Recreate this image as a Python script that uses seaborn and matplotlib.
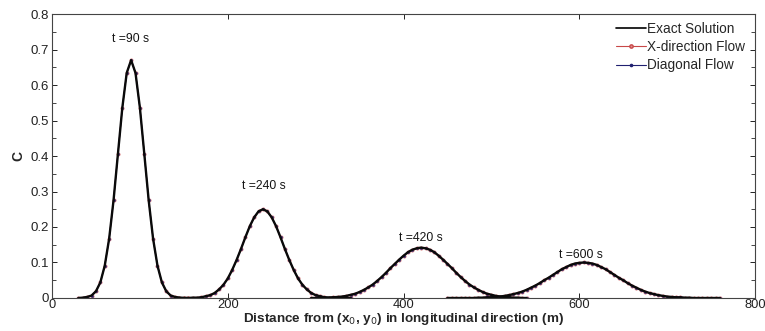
import numpy as np
import pandas as pd
import matplotlib
matplotlib.use("Agg")
import matplotlib.pyplot as plt
from matplotlib.lines import Line2D
from matplotlib.ticker import MultipleLocator
import seaborn as sns

# Concentration pulses (distance in m, concentration C) at four times
times = [90, 240, 420, 600]

x_t90 = list(range(30, 160, 5))
c_t90 = [0.000, 0.001, 0.003, 0.007, 0.019, 0.044, 0.091, 0.167, 0.275, 0.406,
         0.536, 0.634, 0.670, 0.634, 0.536, 0.406, 0.275, 0.167, 0.091, 0.044,
         0.019, 0.007, 0.003, 0.001, 0.000, 0.000]

x_t240 = list(range(140, 345, 5))
c_t240 = [0.000, 0.000, 0.000, 0.000, 0.001, 0.001, 0.002, 0.005, 0.008, 0.014,
          0.024, 0.037, 0.055, 0.079, 0.107, 0.138, 0.171, 0.202, 0.227, 0.244,
          0.250, 0.244, 0.227, 0.202, 0.171, 0.138, 0.107, 0.079, 0.055, 0.037,
          0.024, 0.014, 0.008, 0.005, 0.002, 0.001, 0.001, 0.000, 0.000, 0.000,
          0.000]

x_t420 = list(range(295, 545, 5))
c_t420 = [0.000, 0.000, 0.000, 0.001, 0.001, 0.002, 0.003, 0.004, 0.006, 0.009,
          0.012, 0.017, 0.023, 0.030, 0.038, 0.048, 0.059, 0.071, 0.084, 0.096,
          0.108, 0.119, 0.129, 0.136, 0.140, 0.142, 0.140, 0.136, 0.129, 0.119,
          0.108, 0.096, 0.084, 0.071, 0.059, 0.048, 0.038, 0.030, 0.023, 0.017,
          0.012, 0.009, 0.006, 0.004, 0.003, 0.002, 0.001, 0.001, 0.000, 0.000]

x_t600 = list(range(450, 765, 5))
c_t600 = [0.000, 0.000, 0.000, 0.000, 0.000, 0.000, 0.000, 0.001, 0.001, 0.002,
          0.002, 0.003, 0.004, 0.006, 0.008, 0.011, 0.014, 0.018, 0.023, 0.029,
          0.035, 0.042, 0.050, 0.057, 0.065, 0.073, 0.081, 0.087, 0.093, 0.097,
          0.099, 0.100, 0.099, 0.097, 0.093, 0.087, 0.081, 0.073, 0.065, 0.057,
          0.050, 0.042, 0.035, 0.029, 0.023, 0.018, 0.014, 0.011, 0.008, 0.006,
          0.004, 0.003, 0.002, 0.002, 0.001, 0.001, 0.000, 0.000, 0.000, 0.000,
          0.000, 0.000, 0.000]

pulse_x = [x_t90, x_t240, x_t420, x_t600]
pulse_c = [c_t90, c_t240, c_t420, c_t600]

# Label positions for each pulse (distance, C)
label_x = [89, 241, 420, 602]
label_y = [0.729, 0.316, 0.168, 0.122]

series_names = ["Exact Solution", "X-direction Flow", "Diagonal Flow"]

rows = []
for name in series_names:
    for t, xs, cs in zip(times, pulse_x, pulse_c):
        for xv, cv in zip(xs, cs):
            rows.append({"series": name, "pulse": t, "x": xv, "C": cv})
df = pd.DataFrame(rows)

sns.set_style("ticks")
plt.rcParams["font.family"] = ["Liberation Sans", "DejaVu Sans"]
plt.rcParams["xtick.direction"] = "in"
plt.rcParams["ytick.direction"] = "in"
plt.rcParams["xtick.top"] = True
plt.rcParams["ytick.right"] = True

fig = plt.figure(figsize=(7.65, 3.31), dpi=100)
ax = fig.add_axes([0.068, 0.0997, 0.919, 0.858])

red = "#c84848"
red_face = "#e09090"
navy = "#202070"

sns.lineplot(data=df[df.series == "X-direction Flow"], x="x", y="C",
             units="pulse", estimator=None, sort=False, color=red, lw=0.8,
             marker="o", markersize=2.4, markerfacecolor=red_face,
             markeredgecolor=red, markeredgewidth=0.4, alpha=0.85,
             ax=ax, legend=False)
sns.lineplot(data=df[df.series == "Diagonal Flow"], x="x", y="C",
             units="pulse", estimator=None, sort=False, color=navy, lw=0.8,
             marker="o", markersize=1.6, markerfacecolor=navy,
             markeredgecolor=navy, markeredgewidth=0.3, ax=ax, legend=False)
sns.lineplot(data=df[df.series == "Exact Solution"], x="x", y="C",
             units="pulse", estimator=None, sort=False, color="#0a0a0a",
             lw=1.7, ax=ax, legend=False)

for t, lx, ly in zip(times, label_x, label_y):
    ax.text(lx, ly, f"t ={t} s", ha="center", va="center", fontsize=8.8,
            color="#151515")

ax.set_xlim(0, 800)
ax.set_ylim(0, 0.8)
ax.yaxis.set_minor_locator(MultipleLocator(0.05))
ax.set_yticks([0, 0.1, 0.2, 0.3, 0.4, 0.5, 0.6, 0.7, 0.8])
ax.set_yticklabels(["0", "0.1", "0.2", "0.3", "0.4", "0.5", "0.6", "0.7", "0.8"])
ax.set_xticks([0, 200, 400, 600, 800])
ax.set_xticklabels(["0", "200", "400", "600", "800"])
ax.tick_params(which="major", length=3.5, width=0.7, labelsize=9.5,
               colors="#222222", pad=2)
ax.tick_params(axis="x", which="major", pad=1.0, labelsize=9.3)
ax.tick_params(which="minor", length=3.0, width=0.7, top=False,
               colors="#444444")
for sp in ax.spines.values():
    sp.set_linewidth(0.8)
    sp.set_color("#444444")

ax.set_xlabel("Distance from (x$_0$, y$_0$) in longitudinal direction (m)",
              fontsize=9.7, fontweight="bold", labelpad=-0.5)
ax.set_ylabel("C", fontsize=10, fontweight="bold", labelpad=4)

handles = [
    Line2D([], [], color="black", lw=1.2),
    Line2D([], [], color=red, lw=0.8, marker="o", markersize=2.4,
           markerfacecolor=red_face, markeredgecolor=red),
    Line2D([], [], color=navy, lw=0.8, marker="o", markersize=1.6,
           markerfacecolor=navy, markeredgecolor=navy),
]
ax.legend(handles, series_names, loc="upper right", frameon=False,
          fontsize=9.8, handlelength=2.2, handletextpad=0.1,
          labelspacing=0.3, borderaxespad=0.2, bbox_to_anchor=(0.998, 1.0))

fig.savefig("out.png", dpi=100)
